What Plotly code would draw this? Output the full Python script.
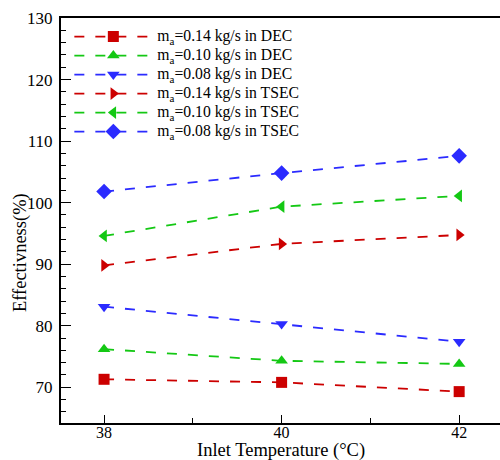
import plotly.graph_objects as go

temps = [38, 40, 42]
dec_014 = [71.3, 70.8, 69.3]
dec_010 = [76.2, 74.3, 73.8]
dec_008 = [83.1, 80.3, 77.4]
tsec_014 = [89.8, 93.3, 94.75]
tsec_010 = [94.6, 99.35, 101.1]
tsec_008 = [101.8, 104.8, 107.6]

names = [
    "m<sub>a</sub>=0.14 kg/s in DEC",
    "m<sub>a</sub>=0.10 kg/s in DEC",
    "m<sub>a</sub>=0.08 kg/s in DEC",
    "m<sub>a</sub>=0.14 kg/s in TSEC",
    "m<sub>a</sub>=0.10 kg/s in TSEC",
    "m<sub>a</sub>=0.08 kg/s in TSEC",
]
series = [dec_014, dec_010, dec_008, tsec_014, tsec_010, tsec_008]

RED, GREEN, BLUE = "#cc0000", "#14c814", "#2b2bff"
colors = [RED, GREEN, BLUE, RED, GREEN, BLUE]
symbols = ["square", "triangle-up", "triangle-down", "triangle-right", "triangle-left", "diamond"]
sizes = [11, 11, 11, 11, 11, 12]

fig = go.Figure()
for n, s, c, sym, sz in zip(names, series, colors, symbols, sizes):
    fig.add_trace(go.Scatter(
        x=temps, y=s, mode="lines+markers",
        name='<span style="font-size:15.7px">' + n + "</span>",
        line=dict(color=c, width=1.8, dash="10px,11px"),
        marker=dict(symbol=sym, size=sz, color=c),
    ))

font_family = "Liberation Serif"
fig.update_layout(
    width=500, height=460,
    margin=dict(l=61, r=0, t=18, b=37),
    paper_bgcolor="white", plot_bgcolor="white",
    font=dict(family=font_family, size=15, color="black"),
    showlegend=True,
    legend=dict(
        x=0.019, y=0.99, xanchor="left", yanchor="top",
        bgcolor="rgba(0,0,0,0)", borderwidth=0,
        font=dict(family=font_family, size=12, color="black"),
        itemwidth=78, tracegroupgap=0,
    ),
    xaxis=dict(
        range=[37.515, 42.46],
        tickvals=[38, 40, 42], ticktext=["38", "40", "42"],
        ticks="inside", ticklen=8, tickwidth=1, tickcolor="black",
        minor=dict(dtick=1, ticks="inside", ticklen=5, tickcolor="black", showgrid=False),
        showline=True, linewidth=2, linecolor="black", mirror=True,
        showgrid=False, zeroline=False,
        tickfont=dict(size=16),
        ticklabelstandoff=-6,
    ),
    yaxis=dict(
        range=[64.2, 130],
        tickvals=[70, 80, 90, 100, 110, 120, 130],
        ticks="inside", ticklen=10, tickwidth=1, tickcolor="black",
        minor=dict(dtick=2, ticks="inside", ticklen=5, tickcolor="black", showgrid=False),
        showline=True, linewidth=2, linecolor="black", mirror=False,
        showgrid=False, zeroline=False,
        tickfont=dict(size=17),
        ticklabelstandoff=3,
    ),
    annotations=[
        dict(
            text="Effectivness(%)", xref="paper", yref="paper",
            x=-0.0934, y=0.422, xanchor="center", yanchor="middle",
            textangle=-90, showarrow=False,
            font=dict(size=18.5, family=font_family, color="black"),
        ),
        dict(
            text="Inlet Temperature (°C)", xref="paper", yref="paper",
            x=0.5, y=-0.0667, xanchor="center", yanchor="middle",
            showarrow=False,
            font=dict(size=18.5, family=font_family, color="black"),
        ),
    ],
)

fig.write_html("out.html")
